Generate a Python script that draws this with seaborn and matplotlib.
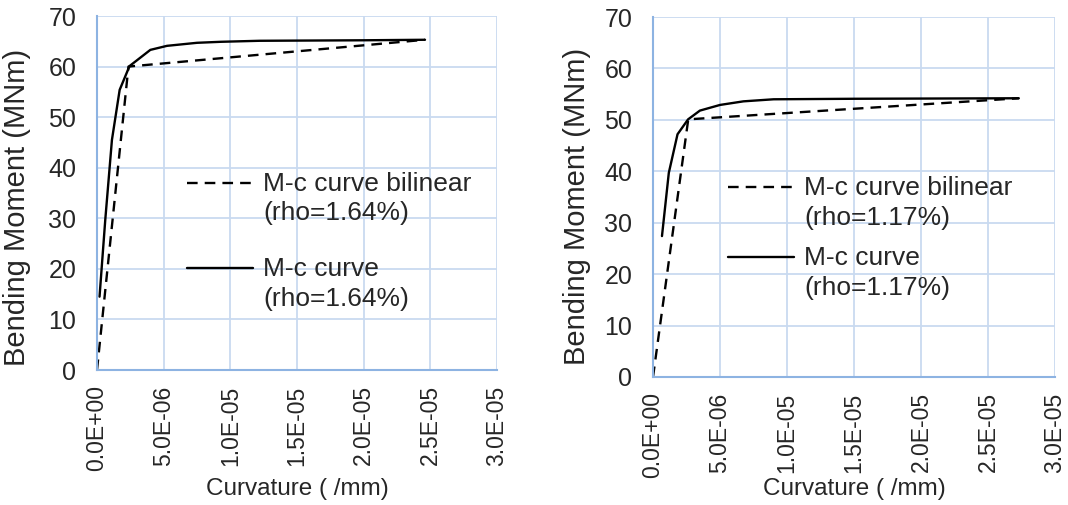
import numpy as np
import pandas as pd
import seaborn as sns
import matplotlib.pyplot as plt
from matplotlib.ticker import FuncFormatter

# left panel (rho = 1.64%)
curv_164 = [1.9e-7, 6.2e-7, 1.12e-6, 1.7e-6, 2.44e-6, 4.0e-6, 5.25e-6, 7.5e-6, 9.3e-6, 1.22e-5, 2.0e-5, 2.46e-5]
mom_164 = [14.5, 29.7, 45.5, 55.4, 60.1, 63.3, 64.1, 64.7, 64.9, 65.1, 65.2, 65.3]
bil_curv_164 = [0.0, 2.36e-6, 2.46e-5]
bil_mom_164 = [0.0, 60.0, 65.3]

# right panel (rho = 1.17%)
curv_117 = [6.7e-7, 1.18e-6, 1.83e-6, 2.62e-6, 3.5e-6, 5.0e-6, 6.75e-6, 9.0e-6, 1.5e-5, 2.73e-5]
mom_117 = [27.4, 39.7, 47.2, 50.1, 51.8, 52.9, 53.6, 54.0, 54.1, 54.2]
bil_curv_117 = [0.0, 2.63e-6, 2.73e-5]
bil_mom_117 = [0.0, 50.1, 54.2]

x_ticks = [0, 5e-6, 1e-5, 1.5e-5, 2e-5, 2.5e-5, 3e-5]
y_ticks = [0, 10, 20, 30, 40, 50, 60, 70]

sns.set_style("white")
plt.rcParams['font.family'] = ['Liberation Sans', 'DejaVu Sans']

grid_c = "#c9daf0"
spine_c = "#8db3e2"
fs = 17.5
tick_fs = 16.5
ylab_fs = 21
leg_fs = 19

fig = plt.figure(figsize=(10.68, 5.05), dpi=100)
ax1 = fig.add_axes([97 / 1068, 135 / 505, 400 / 1068, 354 / 505])
ax2 = fig.add_axes([653 / 1068, 128 / 505, 402 / 1068, 360 / 505])

panels = [
    (ax1, curv_164, mom_164, bil_curv_164, bil_mom_164, "1.64%", (0.225, 0.56), 1.19,
     (-0.165, 0.46), (0.5, -0.305)),
    (ax2, curv_117, mom_117, bil_curv_117, bil_mom_117, "1.17%", (0.187, 0.558), 0.63,
     (-0.155, 0.475), (0.5, -0.28)),
]

for ax, cx, cy, bx, by, rho, leg_pos, spacing, ylab_pos, xlab_pos in panels:
    bil = pd.DataFrame({"curv": bx, "mom": by})
    crv = pd.DataFrame({"curv": cx, "mom": cy})
    sns.lineplot(data=bil, x="curv", y="mom", ax=ax, sort=False, color="black",
                 linewidth=1.7, linestyle=(0, (4.5, 3)),
                 label="M-c curve bilinear\n(rho=" + rho + ")")
    sns.lineplot(data=crv, x="curv", y="mom", ax=ax, sort=False, color="black",
                 linewidth=1.7, label="M-c curve\n(rho=" + rho + ")")
    ax.set_xlim(0, 3e-5)
    ax.set_ylim(0, 70)
    ax.set_xticks(x_ticks)
    ax.set_yticks(y_ticks)
    ax.xaxis.set_major_formatter(FuncFormatter(lambda v, p: f"{v:.1E}"))
    ax.grid(True, color=grid_c, linewidth=1.3)
    ax.set_axisbelow(True)
    for s in ["top", "right"]:
        ax.spines[s].set_visible(False)
    for s in ["left", "bottom"]:
        ax.spines[s].set_color(spine_c)
        ax.spines[s].set_linewidth(1.5)
    ax.tick_params(axis="x", labelrotation=90, labelsize=tick_fs, length=0, pad=11)
    ax.tick_params(axis="y", labelsize=18, length=0, pad=15)
    ax.set_xlabel("Curvature ( /mm)", fontsize=fs)
    ax.xaxis.set_label_coords(*xlab_pos)
    ax.set_ylabel("Bending Moment (MNm)", fontsize=ylab_fs)
    ax.yaxis.set_label_coords(*ylab_pos)
    leg = ax.legend(loc="upper left", bbox_to_anchor=leg_pos, frameon=False,
                    fontsize=leg_fs, handlelength=2.5, handletextpad=0.38,
                    labelspacing=spacing, borderaxespad=0, borderpad=0)
    for t in leg.get_texts():
        t.set_linespacing(1.3)
    # put the key next to the first line of each label
    for ln in leg.get_lines():
        yd = np.asarray(ln.get_ydata(), dtype=float)
        ln.set_ydata(yd + leg_fs * 0.62)

fig.savefig("out.png", dpi=100)
